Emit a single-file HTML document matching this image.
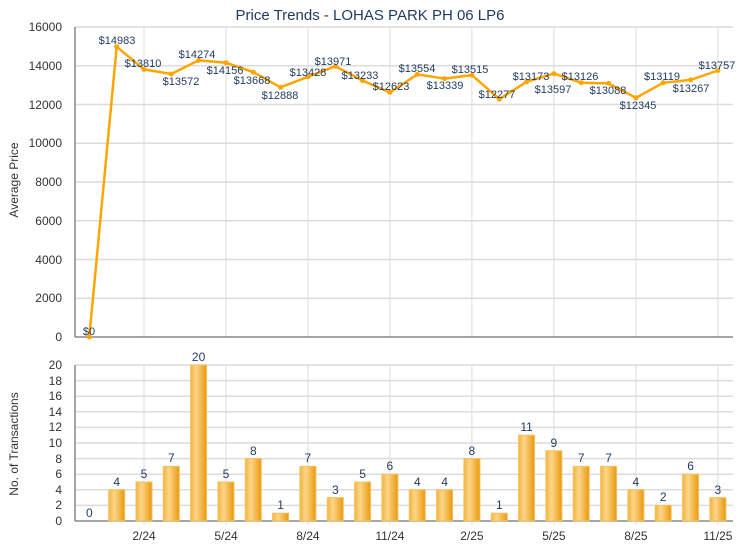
<!DOCTYPE html><html><head><style>body{margin:0;background:#fff}svg text{font-family:"Liberation Sans",Arial,sans-serif}</style></head><body>
<svg width="740" height="550" xmlns="http://www.w3.org/2000/svg">
<rect width="740" height="550" fill="#fff"/>
<text x="370" y="20" font-size="15" fill="#1f3a5f" text-anchor="middle">Price Trends - LOHAS PARK PH 06 LP6</text>
<g stroke="#dcdcdc" stroke-width="1.5">
<line x1="75" x2="733" y1="27" y2="27"/><line x1="75" x2="733" y1="65.75" y2="65.75"/><line x1="75" x2="733" y1="104.5" y2="104.5"/><line x1="75" x2="733" y1="143.25" y2="143.25"/><line x1="75" x2="733" y1="182" y2="182"/><line x1="75" x2="733" y1="220.75" y2="220.75"/><line x1="75" x2="733" y1="259.5" y2="259.5"/><line x1="75" x2="733" y1="298.25" y2="298.25"/>
<line x1="75" x2="733" y1="365" y2="365"/><line x1="75" x2="733" y1="380.6" y2="380.6"/><line x1="75" x2="733" y1="396.2" y2="396.2"/><line x1="75" x2="733" y1="411.8" y2="411.8"/><line x1="75" x2="733" y1="427.4" y2="427.4"/><line x1="75" x2="733" y1="443" y2="443"/><line x1="75" x2="733" y1="458.6" y2="458.6"/><line x1="75" x2="733" y1="474.2" y2="474.2"/><line x1="75" x2="733" y1="489.8" y2="489.8"/><line x1="75" x2="733" y1="505.4" y2="505.4"/>
</g>
<g stroke="#dcdcdc" stroke-width="1">
<line x1="144" x2="144" y1="27" y2="337"/><line x1="226" x2="226" y1="27" y2="337"/><line x1="307.9" x2="307.9" y1="27" y2="337"/><line x1="389.9" x2="389.9" y1="27" y2="337"/><line x1="471.9" x2="471.9" y1="27" y2="337"/><line x1="553.9" x2="553.9" y1="27" y2="337"/><line x1="635.9" x2="635.9" y1="27" y2="337"/><line x1="717.9" x2="717.9" y1="27" y2="337"/>
<line x1="144" x2="144" y1="365" y2="525"/><line x1="226" x2="226" y1="365" y2="525"/><line x1="307.9" x2="307.9" y1="365" y2="525"/><line x1="389.9" x2="389.9" y1="365" y2="525"/><line x1="471.9" x2="471.9" y1="365" y2="525"/><line x1="553.9" x2="553.9" y1="365" y2="525"/><line x1="635.9" x2="635.9" y1="365" y2="525"/><line x1="717.9" x2="717.9" y1="365" y2="525"/>
</g>
<g stroke="#888" stroke-width="1.5"><line x1="75" x2="75" y1="27" y2="337"/><line x1="75" x2="733" y1="337" y2="337"/><line x1="75" x2="75" y1="365" y2="521"/><line x1="75" x2="733" y1="521" y2="521"/></g>
<g font-size="12" fill="#333" text-anchor="end">
<text x="62" y="31">16000</text><text x="62" y="70">14000</text><text x="62" y="109">12000</text><text x="62" y="147">10000</text><text x="62" y="186">8000</text><text x="62" y="225">6000</text><text x="62" y="264">4000</text><text x="62" y="302">2000</text><text x="62" y="341">0</text>
<text x="62" y="369">20</text><text x="62" y="385">18</text><text x="62" y="400">16</text><text x="62" y="416">14</text><text x="62" y="431">12</text><text x="62" y="447">10</text><text x="62" y="463">8</text><text x="62" y="478">6</text><text x="62" y="494">4</text><text x="62" y="509">2</text><text x="62" y="525">0</text>
</g>
<text transform="translate(18,180) rotate(-90)" font-size="12" fill="#333" text-anchor="middle">Average Price</text>
<text transform="translate(18,444) rotate(-90)" font-size="12" fill="#333" text-anchor="middle">No. of Transactions</text>
<g font-size="12" fill="#333" text-anchor="middle">
<text x="144" y="540">2/24</text><text x="226" y="540">5/24</text><text x="307.9" y="540">8/24</text><text x="389.9" y="540">11/24</text><text x="471.9" y="540">2/25</text><text x="553.9" y="540">5/25</text><text x="635.9" y="540">8/25</text><text x="717.9" y="540">11/25</text>
</g>
<polyline fill="none" stroke="#ffa500" stroke-width="2.5" points="89.3,337 116.7,46.7 144,69.4 171.3,74 198.6,60.4 226,62.7 253.3,72.2 280.6,87.3 307.9,76.8 335.3,66.3 362.6,80.6 389.9,92.4 417.3,74.4 444.6,78.6 471.9,75.1 499.3,99.1 526.6,81.8 553.9,73.6 581.2,82.7 608.6,83.4 635.9,97.8 663.2,82.8 690.6,79.9 717.9,70.5"/>
<g fill="#ffa500"><circle cx="89.3" cy="337" r="2.5"/><circle cx="116.7" cy="46.7" r="2.5"/><circle cx="144" cy="69.4" r="2.5"/><circle cx="171.3" cy="74" r="2.5"/><circle cx="198.6" cy="60.4" r="2.5"/><circle cx="226" cy="62.7" r="2.5"/><circle cx="253.3" cy="72.2" r="2.5"/><circle cx="280.6" cy="87.3" r="2.5"/><circle cx="307.9" cy="76.8" r="2.5"/><circle cx="335.3" cy="66.3" r="2.5"/><circle cx="362.6" cy="80.6" r="2.5"/><circle cx="389.9" cy="92.4" r="2.5"/><circle cx="417.3" cy="74.4" r="2.5"/><circle cx="444.6" cy="78.6" r="2.5"/><circle cx="471.9" cy="75.1" r="2.5"/><circle cx="499.3" cy="99.1" r="2.5"/><circle cx="526.6" cy="81.8" r="2.5"/><circle cx="553.9" cy="73.6" r="2.5"/><circle cx="581.2" cy="82.7" r="2.5"/><circle cx="608.6" cy="83.4" r="2.5"/><circle cx="635.9" cy="97.8" r="2.5"/><circle cx="663.2" cy="82.8" r="2.5"/><circle cx="690.6" cy="79.9" r="2.5"/><circle cx="717.9" cy="70.5" r="2.5"/></g>
<g font-size="11" fill="#1f3a5f" text-anchor="middle">
<text x="89" y="335">$0</text><text x="117" y="44">$14983</text><text x="143" y="67">$13810</text><text x="181" y="85">$13572</text><text x="197" y="58">$14274</text><text x="225" y="74">$14156</text><text x="252" y="84">$13668</text><text x="280" y="99">$12888</text><text x="308" y="76">$13428</text><text x="333" y="65">$13971</text><text x="360" y="79">$13233</text><text x="391" y="90">$12623</text><text x="417" y="72">$13554</text><text x="445" y="89">$13339</text><text x="470" y="73">$13515</text><text x="497" y="98">$12277</text><text x="531" y="80">$13173</text><text x="553" y="93">$13597</text><text x="580" y="80">$13126</text><text x="608" y="94">$13088</text><text x="638" y="109">$12345</text><text x="662" y="80">$13119</text><text x="691" y="92">$13267</text><text x="717" y="69">$13757</text>
</g>
<defs><linearGradient id="g" x1="0" x2="1" y1="0" y2="0"><stop offset="0" stop-color="#f2b53a"/><stop offset="0.35" stop-color="#fdd58a"/><stop offset="1" stop-color="#e89a0c"/></linearGradient></defs>
<g fill="url(#g)" stroke="#f5c060" stroke-width="1">
<rect x="108.7" y="489.8" width="16" height="31.2"/><rect x="136" y="482" width="16" height="39"/><rect x="163.3" y="466.4" width="16" height="54.6"/><rect x="190.6" y="365" width="16" height="156"/><rect x="218" y="482" width="16" height="39"/><rect x="245.3" y="458.6" width="16" height="62.4"/><rect x="272.6" y="513.2" width="16" height="7.8"/><rect x="299.9" y="466.4" width="16" height="54.6"/><rect x="327.3" y="497.6" width="16" height="23.4"/><rect x="354.6" y="482" width="16" height="39"/><rect x="381.9" y="474.2" width="16" height="46.8"/><rect x="409.3" y="489.8" width="16" height="31.2"/><rect x="436.6" y="489.8" width="16" height="31.2"/><rect x="463.9" y="458.6" width="16" height="62.4"/><rect x="491.3" y="513.2" width="16" height="7.8"/><rect x="518.6" y="435.2" width="16" height="85.8"/><rect x="545.9" y="450.8" width="16" height="70.2"/><rect x="573.2" y="466.4" width="16" height="54.6"/><rect x="600.6" y="466.4" width="16" height="54.6"/><rect x="627.9" y="489.8" width="16" height="31.2"/><rect x="655.2" y="505.4" width="16" height="15.6"/><rect x="682.6" y="474.2" width="16" height="46.8"/><rect x="709.9" y="497.6" width="16" height="23.4"/>
</g>
<g font-size="12" fill="#1f3a5f" text-anchor="middle">
<text x="89.3" y="517">0</text><text x="116.7" y="486">4</text><text x="144" y="478">5</text><text x="171.3" y="462">7</text><text x="198.6" y="361">20</text><text x="226" y="478">5</text><text x="253.3" y="455">8</text><text x="280.6" y="509">1</text><text x="307.9" y="462">7</text><text x="335.3" y="494">3</text><text x="362.6" y="478">5</text><text x="389.9" y="470">6</text><text x="417.3" y="486">4</text><text x="444.6" y="486">4</text><text x="471.9" y="455">8</text><text x="499.3" y="509">1</text><text x="526.6" y="431">11</text><text x="553.9" y="447">9</text><text x="581.2" y="462">7</text><text x="608.6" y="462">7</text><text x="635.9" y="486">4</text><text x="663.2" y="501">2</text><text x="690.6" y="470">6</text><text x="717.9" y="494">3</text>
</g>
</svg></body></html>
